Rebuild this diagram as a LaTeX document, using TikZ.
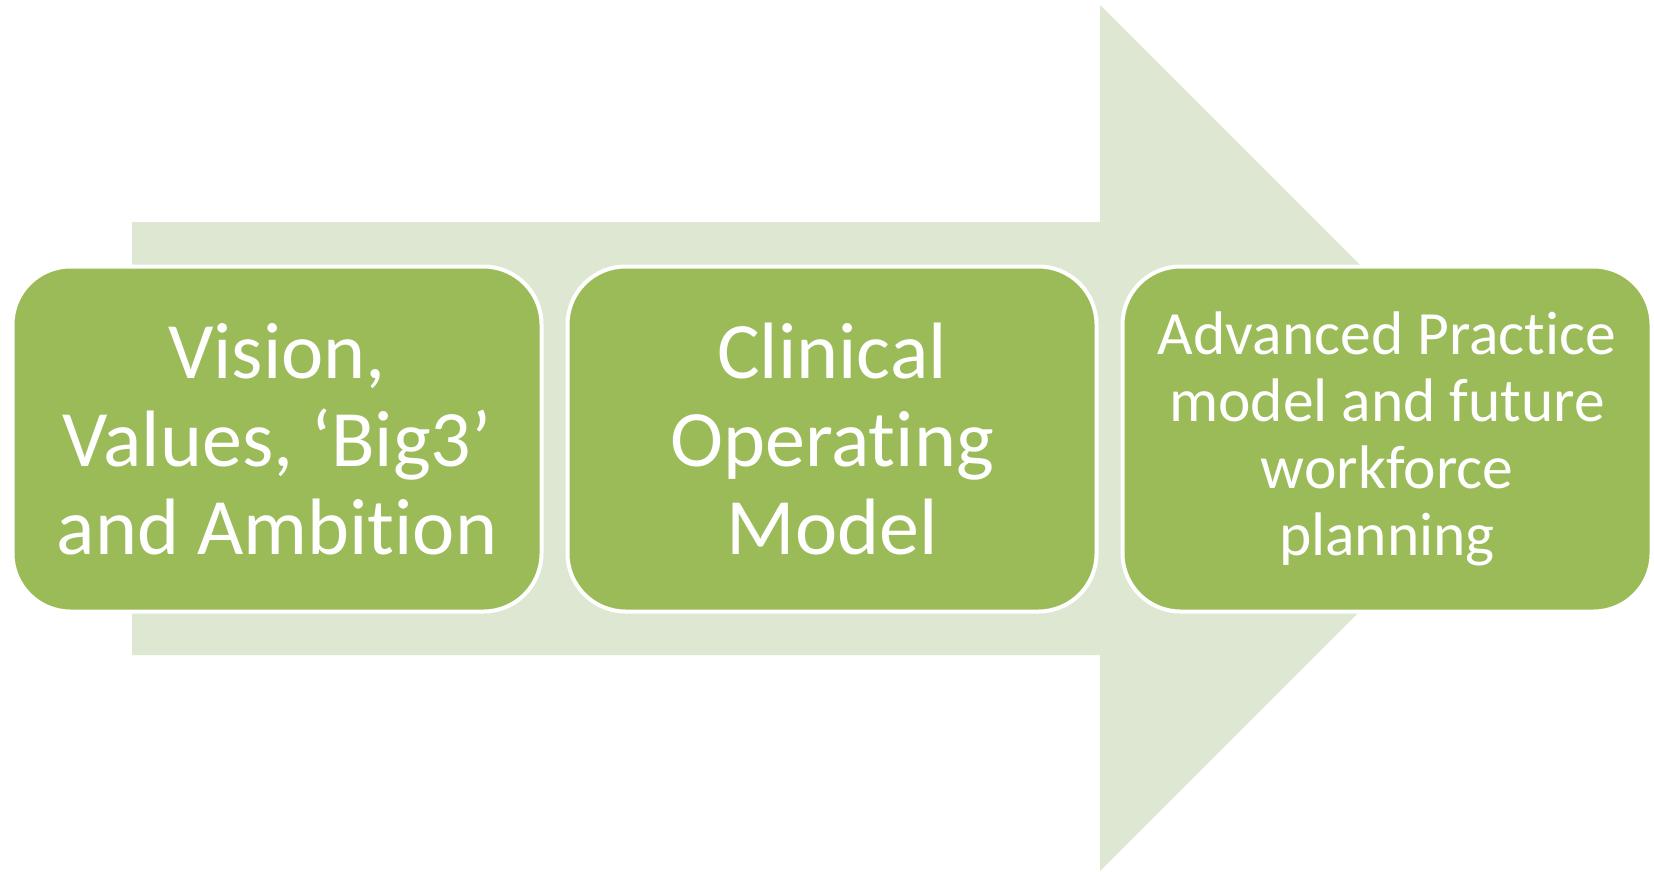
\documentclass[tikz,border=0pt]{standalone}
\usepackage{fontspec}
\setmainfont{Carlito}[Ligatures=NoCommon]
\definecolor{boxgreen}{RGB}{155,187,89}
\definecolor{arrowtint}{RGB}{222,231,210}
\tikzset{
  stepbox/.style={rectangle, rounded corners=58pt, minimum width=529pt,
    minimum height=345pt, draw=white, line width=4pt, fill=boxgreen,
    text=white, align=center, inner sep=0pt},
  bigtext/.style={font=\fontsize{80}{88}\selectfont},
  smalltext/.style={font=\fontsize{61.5}{67}\selectfont},
  bigarrow/.style={fill=arrowtint, draw=none}
}
\begin{document}
\begin{tikzpicture}[x=1pt,y=-1pt]
\useasboundingbox (0,0) rectangle (1654,871);
\fill[white] (0,0) rectangle (1654,871);
\fill[bigarrow] (132,222) -- (1100,222) -- (1100,5) -- (1533,438) --
  (1100,871) -- (1100,655) -- (132,655) -- cycle;
\node[stepbox, bigtext] (b1) at (277,439) {Vision,\\Values, ‘Big3’\\and Ambition};
\node[stepbox, bigtext] (b2) at (832,439) {Clinical\\Operating\\Model};
\node[stepbox, smalltext] (b3) at (1387,439) {Advanced Practice\\model and future\\workforce\\planning};
\end{tikzpicture}
\end{document}
